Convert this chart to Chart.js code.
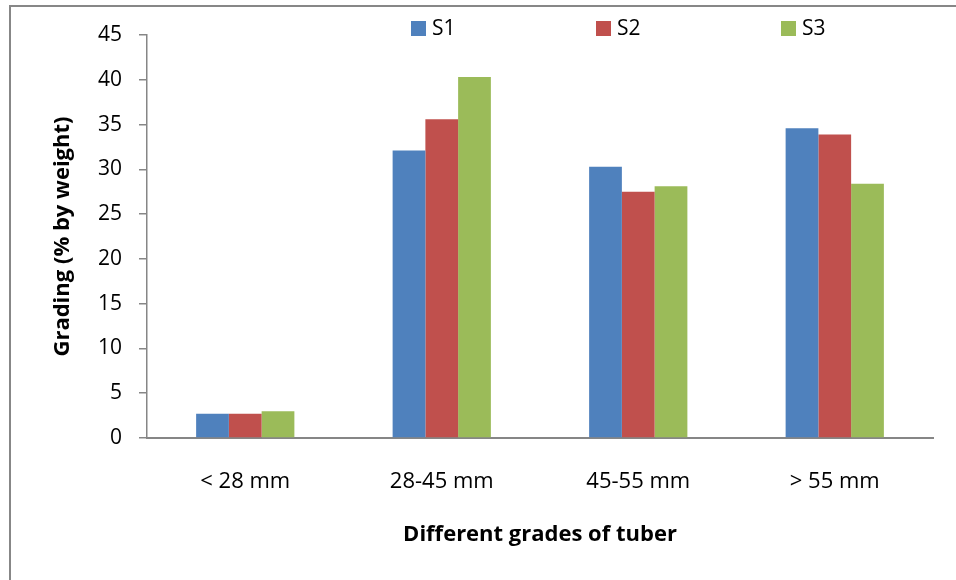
<!DOCTYPE html>
<html>
<head>
<meta charset="utf-8">
<script src="https://cdn.jsdelivr.net/npm/chart.js@4"></script>
<style>
  html, body { margin: 0; padding: 0; background: #fff; }
  #wrap { position: relative; width: 956px; height: 580px; overflow: hidden; }
  #frame { position: absolute; left: 9px; top: 5px; width: 1000px; height: 700px;
           border-left: 2px solid #878787; border-top: 2px solid #878787; }
  #myChart { position: absolute; left: 0; top: 0; }
</style>
</head>
<body>
<div id="wrap">
  <div id="frame"></div>
  <canvas id="myChart" width="956" height="580"></canvas>
</div>
<script>
// Chart data
var categories = ['< 28 mm', '28-45 mm', '45-55 mm', '> 55 mm'];
var seriesNames = ['S1', 'S2', 'S3'];
var s1 = [2.7, 32.1, 30.3, 34.6];
var s2 = [2.7, 35.6, 27.5, 33.9];
var s3 = [3.0, 40.3, 28.1, 28.4];
var yTicks = [0, 5, 10, 15, 20, 25, 30, 35, 40, 45];

var colors = ['#4F81BD', '#C0504D', '#9BBB59'];
var axisColor = '#868686';
var font = "'Open Sans', sans-serif";

// Simple legend drawn at the top, spaced out like the original
var topLegend = {
    id: 'topLegend',
    afterDraw: function (chart) {
        var ctx = chart.ctx;
        var sets = chart.data.datasets;
        var gap = 185;
        var startX = 411;
        ctx.save();
        ctx.font = '21px ' + font;
        ctx.textBaseline = 'middle';
        ctx.fillStyle = '#000';
        sets.forEach(function (ds, i) {
            var x = startX + i * gap;
            ctx.fillStyle = ds.backgroundColor;
            ctx.fillRect(x, 21, 15, 15);
            ctx.fillStyle = '#000';
            ctx.fillText(ds.label, x + 21, 29);
        });
        ctx.restore();
    }
};

var ctx = document.getElementById('myChart').getContext('2d');
var myChart = new Chart(ctx, {
    type: 'bar',
    data: {
        labels: categories,
        datasets: [
            { label: seriesNames[0], data: s1, backgroundColor: colors[0] },
            { label: seriesNames[1], data: s2, backgroundColor: colors[1] },
            { label: seriesNames[2], data: s3, backgroundColor: colors[2] }
        ]
    },
    options: {
        responsive: false,
        animation: false,
        layout: { padding: { left: 40, right: 23, top: 35, bottom: 32 } },
        datasets: { bar: { categoryPercentage: 0.5, barPercentage: 1.0 } },
        plugins: {
            legend: { display: false },
            tooltip: { enabled: false }
        },
        scales: {
            x: {
                afterFit: function (scale) { scale.height = 110; },
                grid: { display: false, drawTicks: false },
                border: { display: true, color: axisColor, width: 2 },
                ticks: { color: '#000', font: { family: font, size: 22 }, padding: 31 },
                title: {
                    display: true,
                    text: 'Different grades of tuber',
                    color: '#000',
                    font: { family: font, size: 22, weight: 'bold' },
                    padding: { top: 0, bottom: 0 }
                }
            },
            y: {
                min: 0,
                max: 45,
                afterFit: function (scale) { scale.width = 107; },
                afterBuildTicks: function (scale) {
                    scale.ticks = yTicks.map(function (v) { return { value: v }; });
                },
                grid: { drawOnChartArea: false, drawTicks: true, tickLength: 8, color: axisColor, lineWidth: 1.5 },
                border: { display: true, color: axisColor, width: 1.5 },
                ticks: { color: '#000', font: { family: font, size: 21 }, padding: 17 },
                title: {
                    display: true,
                    text: 'Grading (% by weight)',
                    color: '#000',
                    font: { family: font, size: 22, weight: 'bold' },
                    padding: { top: 10, bottom: 0 }
                }
            }
        }
    },
    plugins: [topLegend]
});
</script>
</body>
</html>
